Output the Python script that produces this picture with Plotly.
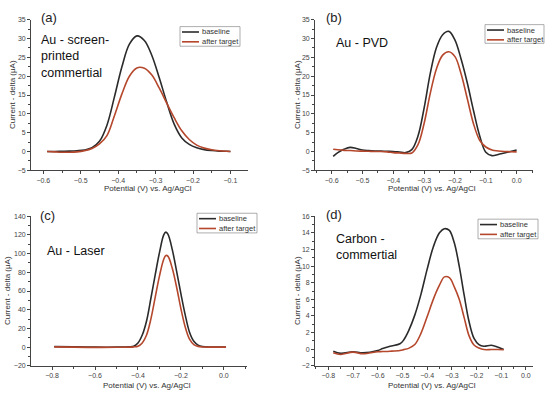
import plotly.graph_objects as go

W, H = 550, 399
BASE_COLOR = "#2b2b2b"
AFTER_COLOR = "#b5472c"
FONT = "Liberation Sans, Arial, sans-serif"

# ---------------- data ----------------
# (a) Au - screen-printed commertial
xa = [-0.59, -0.57, -0.55, -0.53, -0.51, -0.49, -0.47, -0.45, -0.43, -0.41, -0.39, -0.37, -0.35,
      -0.33, -0.31, -0.29, -0.27, -0.25, -0.23, -0.21, -0.19, -0.17, -0.15, -0.13, -0.11, -0.10]
ya_base = [0.0, 0.0, 0.05, 0.1, 0.2, 0.4, 1.0, 2.7, 7.0, 14.5, 22.5, 28.5, 30.7,
           29.5, 25.5, 19.5, 13.0, 7.2, 3.6, 1.9, 1.0, 0.5, 0.25, 0.1, 0.05, 0.0]
ya_after = [0.0, -0.1, -0.2, -0.2, -0.1, 0.2, 0.8, 2.0, 4.2, 9.5, 15.3, 20.0, 22.2,
            22.1, 20.3, 16.8, 12.8, 8.9, 5.5, 3.2, 1.7, 0.9, 0.45, 0.2, 0.05, 0.0]

# (b) Au - PVD
xb = [-0.595, -0.58, -0.56, -0.54, -0.52, -0.50, -0.48, -0.46, -0.44, -0.42, -0.40, -0.38, -0.36,
      -0.34, -0.32, -0.30, -0.28, -0.26, -0.24, -0.22, -0.20, -0.18, -0.16, -0.14, -0.12, -0.10,
      -0.08, -0.06, -0.04, -0.02, 0.0]
yb_base = [-1.3, -0.3, 0.6, 1.1, 0.8, 0.4, 0.25, 0.15, 0.1, 0.05, 0.0, -0.15, -0.3,
           0.5, 4.1, 11.6, 20.8, 27.6, 31.0, 31.9, 29.6, 24.5, 18.2, 10.9, 4.2, -0.2,
           -1.1, -0.8, -0.4, 0.0, 0.4]
yb_after = [0.6, 0.45, 0.3, 0.25, 0.15, 0.1, 0.05, 0.0, 0.0, -0.1, -0.3, -0.4, -0.5,
            -0.4, 1.8, 7.5, 15.5, 22.0, 25.6, 26.5, 25.2, 20.6, 14.0, 7.4, 3.0, 1.2,
            0.4, 0.15, 0.0, -0.05, -0.1]

# (c) Au - Laser
xc = [-0.79, -0.70, -0.60, -0.50, -0.44, -0.42, -0.40, -0.38, -0.36, -0.34, -0.32, -0.30, -0.28,
      -0.27, -0.26, -0.24, -0.22, -0.20, -0.18, -0.16, -0.14, -0.12, -0.10, -0.06, 0.01]
yc_base = [0.5, 0.3, 0.0, 0.0, 0.3, 1.0, 4.5, 13.0, 28.0, 52.0, 77.0, 101.0, 120.0,
           123.0, 120.5, 104.0, 81.0, 57.0, 34.5, 16.0, 6.3, 2.2, 0.6, 0.1, 0.0]
yc_after = [0.3, 0.0, -0.3, -0.2, 0.0, 0.3, 1.0, 4.5, 13.0, 30.0, 53.0, 76.0, 94.0,
            98.0, 97.0, 84.0, 64.0, 41.0, 21.5, 8.5, 2.8, 0.8, 0.2, 0.0, 0.0]

# (d) Carbon - commertial
xd = [-0.78, -0.75, -0.70, -0.66, -0.60, -0.58, -0.55, -0.51, -0.495, -0.475, -0.45, -0.425,
      -0.40, -0.375, -0.35, -0.33, -0.31, -0.29, -0.27, -0.25, -0.23, -0.21, -0.19, -0.17,
      -0.14, -0.115, -0.09]
yd_base = [-0.25, -0.5, -0.3, -0.43, -0.15, 0.08, 0.35, 0.65, 1.1, 2.2, 4.1, 6.6,
           9.6, 12.3, 14.0, 14.5, 14.3, 12.8, 10.0, 6.5, 3.3, 1.3, 0.55, 0.35,
           0.47, 0.28, -0.04]
yd_after = [-0.43, -0.63, -0.35, -0.55, -0.3, -0.28, -0.24, -0.15, -0.05, 0.1, 0.56, 1.9,
            3.9, 6.0, 7.7, 8.7, 8.6, 7.5, 6.0, 3.8, 1.6, 0.5, 0.15, -0.04,
            -0.04, -0.04, -0.07]

series_names = ["baseline", "after target"]
series_colors = [BASE_COLOR, AFTER_COLOR]
panel_labels = ["(a)", "(b)", "(c)", "(d)"]
panel_texts = ["Au - screen-<br>printed<br>commertial", "Au - PVD", "Au - Laser",
               "Carbon -<br>commertial"]
x_title = "Potential (V) vs. Ag/AgCl"
y_title = "Current - delta (μA)"

# ---------------- layout helpers ----------------
def px_x(p):
    return p / W

def px_y(p):
    return 1 - p / H

panels = [
    dict(x=xa, yb=ya_base, ya=ya_after, xpx=(31, 248), ypx=(16, 169.3), xr=[-0.633, -0.053],
         xd=0.1, yr=[-5, 35], yd=5),
    dict(x=xb, yb=yb_base, ya=yb_after, xpx=(315, 533.3), ypx=(16, 169.3), xr=[-0.654, 0.054],
         xd=0.1, yr=[-5, 35], yd=5),
    dict(x=xc, yb=yc_base, ya=yc_after, xpx=(31, 247.3), ypx=(216, 368.3), xr=[-0.898, 0.109],
         xd=0.2, yr=[-20, 140], yd=20),
    dict(x=xd, yb=yd_base, ya=yd_after, xpx=(315, 533.3), ypx=(216, 368.3), xr=[-0.854, 0.03],
         xd=0.1, yr=[-2, 16], yd=2),
]

# legend boxes: (left, top, right, bottom) in pixels
legend_boxes = [(180, 23, 240, 43), (485, 21, 544, 40), (197, 213, 257, 233), (478, 219, 538, 239)]
text_pos = [(39, 27), (334, 31), (45, 242), (334, 230)]
label_pos = [(39, 4), (324, 4), (38, 206), (324, 205)]
ytitle_x = [12, 297, 7, 297]

fig = go.Figure()
annotations = []
shapes = []

for i, p in enumerate(panels):
    k = "" if i == 0 else str(i + 1)
    for name, col, ys in zip(series_names, series_colors, (p["yb"], p["ya"])):
        fig.add_trace(go.Scatter(x=p["x"], y=ys, mode="lines", name=name, showlegend=False,
                                 line=dict(color=col, width=1.6, shape="spline", smoothing=1.0),
                                 xaxis="x" + k, yaxis="y" + k))
    axis_common = dict(showline=True, linecolor="#444", linewidth=0.8, ticks="outside",
                       ticklen=3, tickwidth=0.8, tickcolor="#444", showgrid=False, zeroline=False,
                       tickfont=dict(family=FONT, size=7, color="#444"))
    minor_common = dict(ticks="outside", ticklen=2, tickwidth=0.8, tickcolor="#444",
                        showgrid=False)
    fig.layout["xaxis" + k] = dict(axis_common, domain=[px_x(p["xpx"][0]), px_x(p["xpx"][1])],
                                   range=p["xr"], dtick=p["xd"], tick0=0,
                                   minor=dict(minor_common, dtick=p["xd"] / 2),
                                   anchor="y" + k, tickformat=".1f")
    fig.layout["yaxis" + k] = dict(axis_common, domain=[px_y(p["ypx"][1]), px_y(p["ypx"][0])],
                                   range=p["yr"], dtick=p["yd"], tick0=0,
                                   minor=dict(minor_common, dtick=p["yd"] / 2),
                                   anchor="x" + k)
    # axis titles
    xc_px = (p["xpx"][0] + p["xpx"][1]) / 2
    ty = 188 if i < 2 else 388
    annotations.append(dict(text=x_title, x=px_x(xc_px + 8), y=px_y(ty), xref="paper",
                            yref="paper", showarrow=False, xanchor="center", yanchor="middle",
                            font=dict(family=FONT, size=8, color="#333")))
    yc_px = (p["ypx"][0] + p["ypx"][1]) / 2
    annotations.append(dict(text=y_title, x=px_x(ytitle_x[i]), y=px_y(yc_px), xref="paper",
                            yref="paper", showarrow=False, textangle=-90, xanchor="center",
                            yanchor="middle", font=dict(family=FONT, size=8, color="#333")))
    # panel label and description
    annotations.append(dict(text=panel_labels[i], x=px_x(label_pos[i][0]), y=px_y(label_pos[i][1]),
                            xref="paper", yref="paper", showarrow=False, xanchor="left",
                            yanchor="top", font=dict(family=FONT, size=13, color="#222")))
    annotations.append(dict(text=panel_texts[i], x=px_x(text_pos[i][0]), y=px_y(text_pos[i][1]),
                            xref="paper", yref="paper", showarrow=False, xanchor="left",
                            yanchor="top", align="left",
                            font=dict(family=FONT, size=12.5, color="#111")))
    # legend (box, key lines, names)
    l, t, r, b = legend_boxes[i]
    shapes.append(dict(type="rect", xref="paper", yref="paper", x0=px_x(l), x1=px_x(r),
                       y0=px_y(b), y1=px_y(t), line=dict(color="#777", width=0.6)))
    for j, (name, col) in enumerate(zip(series_names, series_colors)):
        yy = t + 5.5 + 10 * j
        shapes.append(dict(type="line", xref="paper", yref="paper", x0=px_x(l + 2),
                           x1=px_x(l + 19), y0=px_y(yy), y1=px_y(yy),
                           line=dict(color=col, width=1.6)))
        annotations.append(dict(text=name, x=px_x(l + 20), y=px_y(yy), xref="paper",
                                yref="paper", showarrow=False, xanchor="left", yanchor="middle",
                                font=dict(family=FONT, size=7.5, color="#333")))

fig.update_layout(width=W, height=H, margin=dict(l=0, r=0, t=0, b=0),
                  paper_bgcolor="white", plot_bgcolor="white", annotations=annotations,
                  shapes=shapes, showlegend=False)
fig.write_html("out.html", config={"displayModeBar": False},
               post_script="document.body.style.margin='0';")
